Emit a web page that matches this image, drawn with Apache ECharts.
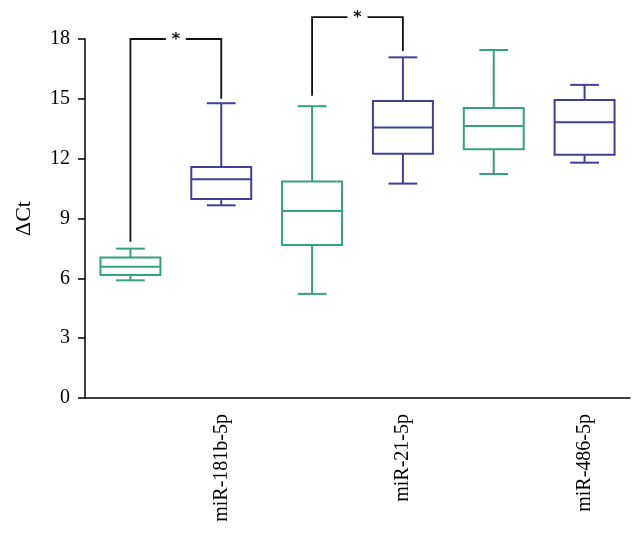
<!DOCTYPE html>
<html><head><meta charset="utf-8">
<script src="https://cdn.jsdelivr.net/npm/echarts@6/dist/echarts.min.js"></script>
<style>html,body{margin:0;padding:0;background:#fff}#c{width:642px;height:547px}</style>
</head><body><div id="c"></div>
<script>
// ---- data ----
const groups = ['miR-181b-5p', 'miR-21-5p', 'miR-486-5p'];
// category slots: for each group a green (A) and blue (B) box
const categories = ['miR-181b-5p|A', 'miR-181b-5p|B', 'miR-21-5p|A', 'miR-21-5p|B', 'miR-486-5p|A', 'miR-486-5p|B'];
const boxMin    = [5.90, 9.66, 5.22, 10.75, 11.23, 11.80];
const boxQ1     = [6.17, 9.98, 7.67, 12.25, 12.47, 12.20];
const boxMedian = [6.58, 10.97, 9.38, 13.56, 13.64, 13.83];
const boxQ3     = [7.04, 11.58, 10.85, 14.89, 14.54, 14.94];
const boxMax    = [7.49, 14.78, 14.63, 17.08, 17.45, 15.70];
const yTicks = [0, 3, 6, 9, 12, 15, 18];
// significance brackets: [from slot, to slot]
const bracketFrom  = [0, 2];
const bracketTo    = [1, 3];
const bracketStart = [7.84, 15.15];
const bracketTop   = [18.0, 19.1];
const bracketEnd   = [15.0, 17.4];
const bracketLabel = ['*', '*'];

const GREEN = '#34a27a';
const BLUE = '#40409a';

function boxData(parity) {
  const out = [];
  for (let i = 0; i < categories.length; i++) {
    if (i % 2 === parity) out.push([i, boxMin[i], boxQ1[i], boxMedian[i], boxQ3[i], boxMax[i]]);
  }
  return out;
}

function renderBox(color) {
  return function (params, api) {
    const x = api.value(0);
    const pMin = api.coord([x, api.value(1)]);
    const pQ1 = api.coord([x, api.value(2)]);
    const pMed = api.coord([x, api.value(3)]);
    const pQ3 = api.coord([x, api.value(4)]);
    const pMax = api.coord([x, api.value(5)]);
    const bw = api.size([1, 0])[0] * 0.66;
    const cw = bw * 0.48;
    const cx = pMed[0];
    const st = { stroke: color, lineWidth: 2, fill: 'none' };
    return {
      type: 'group',
      children: [
        { type: 'rect', shape: { x: cx - bw / 2, y: pQ3[1], width: bw, height: pQ1[1] - pQ3[1] }, style: st },
        { type: 'line', shape: { x1: cx - bw / 2, y1: pMed[1], x2: cx + bw / 2, y2: pMed[1] }, style: st },
        { type: 'line', shape: { x1: cx, y1: pQ3[1], x2: cx, y2: pMax[1] }, style: st },
        { type: 'line', shape: { x1: cx, y1: pQ1[1], x2: cx, y2: pMin[1] }, style: st },
        { type: 'line', shape: { x1: cx - cw / 2, y1: pMax[1], x2: cx + cw / 2, y2: pMax[1] }, style: st },
        { type: 'line', shape: { x1: cx - cw / 2, y1: pMin[1], x2: cx + cw / 2, y2: pMin[1] }, style: st }
      ]
    };
  };
}

const bracketData = bracketFrom.map((f, i) => [f, bracketTo[i], bracketStart[i], bracketTop[i], bracketEnd[i]]);

const chart = echarts.init(document.getElementById('c'), null, { renderer: 'canvas' });
chart.setOption({
  animation: false,
  backgroundColor: '#fff',
  grid: { left: 85, right: 12, top: 39, bottom: 149 },
  xAxis: {
    type: 'category',
    data: categories,
    boundaryGap: true,
    axisLine: { lineStyle: { color: '#000', width: 1.5 } },
    axisTick: { alignWithLabel: true, length: 7, interval: 0, lineStyle: { color: '#000', width: 1.5 } },
    axisLabel: {
      interval: (i) => i % 2 === 1,
      rotate: 90,
      margin: 16,
      color: '#000',
      fontFamily: 'Liberation Serif',
      fontSize: 20,
      formatter: (v) => v.split('|')[0]
    },
    splitLine: { show: false }
  },
  yAxis: {
    type: 'value',
    min: yTicks[0],
    max: yTicks[yTicks.length - 1],
    interval: 3,
    name: 'ΔCt',
    nameLocation: 'middle',
    nameGap: 50,
    nameRotate: 90,
    nameTextStyle: { color: '#000', fontFamily: 'Liberation Serif', fontSize: 22 },
    axisLine: { show: true, lineStyle: { color: '#000', width: 1.5 } },
    axisTick: { show: true, length: 7, lineStyle: { color: '#000', width: 1.5 } },
    axisLabel: { color: '#000', fontFamily: 'Liberation Serif', fontSize: 20, margin: 15 },
    splitLine: { show: false }
  },
  series: [
    { type: 'custom', name: 'A', data: boxData(0), renderItem: renderBox(GREEN), encode: { x: 0, y: [1, 2, 3, 4, 5] } },
    { type: 'custom', name: 'B', data: boxData(1), renderItem: renderBox(BLUE), encode: { x: 0, y: [1, 2, 3, 4, 5] } },
    {
      type: 'custom', name: 'sig', clip: false, data: bracketData,
      encode: { x: [0, 1], y: [2, 3, 4] },
      renderItem: function (params, api) {
        const a = api.coord([api.value(0), api.value(2)]);
        const t0 = api.coord([api.value(0), api.value(3)]);
        const t1 = api.coord([api.value(1), api.value(3)]);
        const b = api.coord([api.value(1), api.value(4)]);
        const xm = (t0[0] + t1[0]) / 2;
        const gap = 10;
        const st = { stroke: '#111', lineWidth: 1.8, fill: 'none' };
        return {
          type: 'group',
          children: [
            { type: 'polyline', shape: { points: [a, t0, [xm - gap, t0[1]]] }, style: st },
            { type: 'polyline', shape: { points: [[xm + gap, t1[1]], t1, b] }, style: st },
            { type: 'text', style: { text: bracketLabel[params.dataIndex], x: xm, y: t0[1] + 1, align: 'center', verticalAlign: 'middle', font: 'bold 16px "DejaVu Sans"', fill: '#111' } }
          ]
        };
      }
    }
  ]
});
</script></body></html>
